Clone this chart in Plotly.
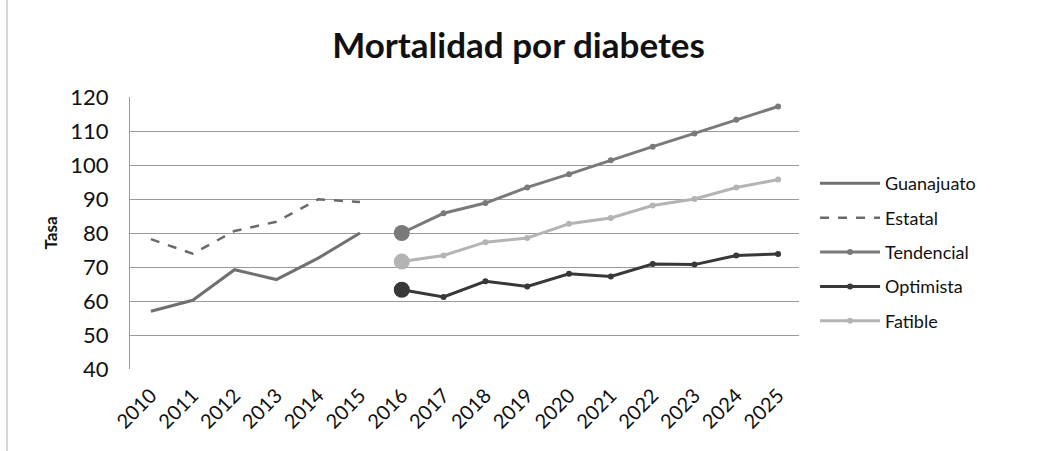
import plotly.graph_objects as go

years = [str(y) for y in range(2010, 2026)]
hist_years = years[:6]
proj_years = years[6:]

guanajuato = [57.0, 60.2, 69.2, 66.3, 72.6, 80.0]
estatal = [78.2, 73.9, 80.6, 83.3, 89.9, 89.1]
tendencial = [80.0, 85.8, 88.8, 93.4, 97.3, 101.4, 105.4, 109.3, 113.3, 117.2]
optimista = [63.3, 61.2, 65.8, 64.3, 68.0, 67.2, 70.9, 70.7, 73.4, 73.8]
fatible = [71.6, 73.4, 77.3, 78.5, 82.7, 84.4, 88.1, 90.0, 93.4, 95.7]

FONT = "Lato, 'Noto Sans', sans-serif"

fig = go.Figure()
fig.add_trace(go.Scatter(x=hist_years, y=guanajuato, name="Guanajuato", mode="lines",
                         legendgroup="g1",
                         line=dict(color="#707070", width=3)))
fig.add_trace(go.Scatter(x=hist_years, y=estatal, name="Estatal", mode="lines",
                         legendgroup="g2",
                         line=dict(color="#6a6a6a", width=2.5, dash="dash")))
proj = [("Tendencial", tendencial, "#7a7a7a", "g3"),
        ("Optimista", optimista, "#383838", "g4"),
        ("Fatible", fatible, "#b4b4b4", "g5")]
for name, vals, col, grp in proj:
    fig.add_trace(go.Scatter(x=proj_years, y=vals, name=name, mode="lines+markers",
                             legendgroup=grp,
                             line=dict(color=col, width=3),
                             marker=dict(color=col, size=6)))
    fig.add_trace(go.Scatter(x=proj_years[:1], y=vals[:1], name=name, mode="markers",
                             legendgroup=grp, showlegend=False, hoverinfo="skip",
                             marker=dict(color=col, size=16)))

fig.update_layout(
    width=1037, height=451,
    margin=dict(l=130, r=238, t=97, b=82),
    paper_bgcolor="white", plot_bgcolor="white",
    font=dict(family=FONT, color="#222222"),
    title=dict(text="<b>Mortalidad por diabetes</b>", x=0.5, xanchor="center",
               y=1 - 46 / 451, yanchor="middle", font=dict(size=35, color="#111111")),
    showlegend=True,
    legend=dict(x=1.024, xanchor="left", y=0.43, yanchor="middle",
                font=dict(size=18, color="#111111"),
                traceorder="grouped", tracegroupgap=8, itemwidth=60),
    xaxis=dict(type="category", categoryorder="array", categoryarray=years,
               range=[-0.5, 15.5], showgrid=False, zeroline=False,
               showline=False, ticks="", tickangle=-45, automargin=False,
               ticklabelstandoff=10,
               tickfont=dict(size=20, color="#111111")),
    yaxis=dict(range=[40, 120], tickvals=[40, 50, 60, 70, 80, 90, 100, 110, 120],
               showgrid=True, gridcolor="#9a9a9a", gridwidth=1, zeroline=False,
               showline=True, linecolor="#9a9a9a", linewidth=1, automargin=False,
               ticks="", ticklabelstandoff=16, tickfont=dict(size=22, color="#111111"),
               title=dict(text="<b>Tasa</b>", font=dict(size=17, color="#111111"),
                          standoff=8)),
)

# outer chart-area border (only its left edge falls inside the picture)
fig.add_shape(type="line", xref="paper", yref="paper",
              x0=(7 - 130) / 669, x1=(7 - 130) / 669,
              y0=(369.3 - 460) / 272, y1=(369.3 + 10) / 272,
              line=dict(color="#b0b0b0", width=1), layer="below")

fig.write_html("out.html", config={"displayModeBar": False},
               post_script="document.body.style.margin='0px';")
